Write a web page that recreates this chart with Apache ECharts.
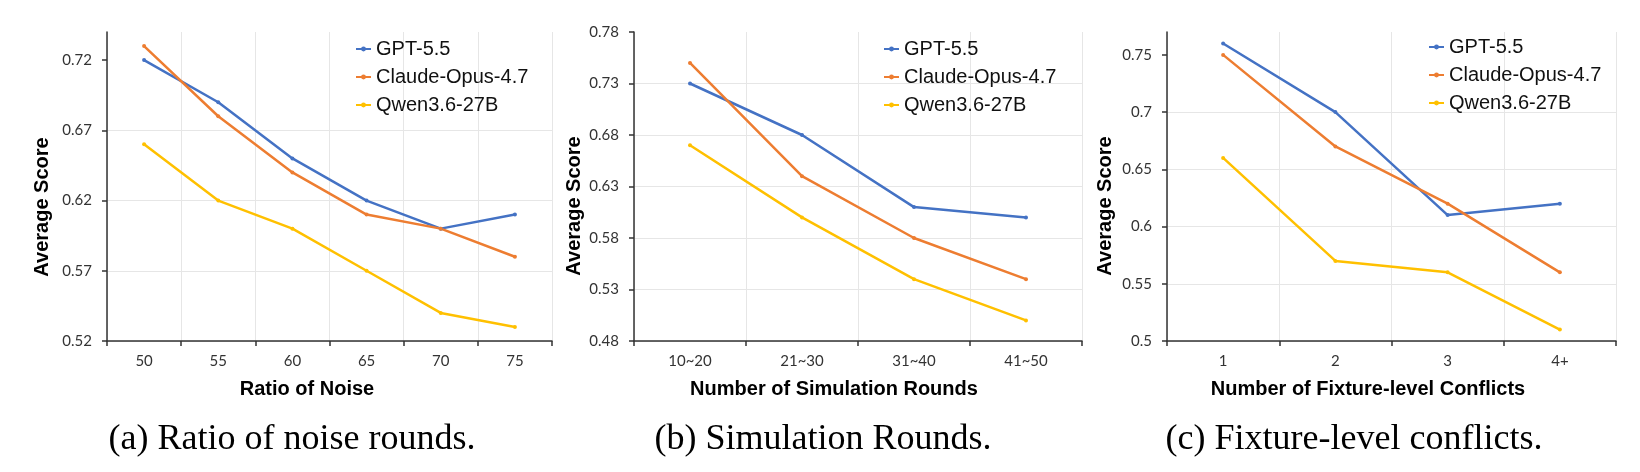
<!DOCTYPE html>
<html>
<head>
<meta charset="utf-8">
<title>Average Score</title>
<script src="https://cdn.jsdelivr.net/npm/echarts@6/dist/echarts.min.js"></script>
<style>
  html, body { margin: 0; padding: 0; background: #fff; }
  #main { width: 1640px; height: 472px; }
</style>
</head>
<body>
<div id="main"></div>
<script type="text/javascript">
// data
var modelNames = ['GPT-5.5', 'Claude-Opus-4.7', 'Qwen3.6-27B'];
var modelColors = ['#4472C4', '#ED7D31', '#FFC000'];

// (a) ratio of noise
var noiseCats = ['50', '55', '60', '65', '70', '75'];
var noiseGpt = [0.72, 0.69, 0.65, 0.62, 0.60, 0.61];
var noiseClaude = [0.73, 0.68, 0.64, 0.61, 0.60, 0.58];
var noiseQwen = [0.66, 0.62, 0.60, 0.57, 0.54, 0.53];
var noiseTicks = [0.52, 0.57, 0.62, 0.67, 0.72];

// (b) simulation rounds
var roundCats = ['10~20', '21~30', '31~40', '41~50'];
var roundGpt = [0.73, 0.68, 0.61, 0.60];
var roundClaude = [0.75, 0.64, 0.58, 0.54];
var roundQwen = [0.67, 0.60, 0.54, 0.50];
var roundTicks = [0.48, 0.53, 0.58, 0.63, 0.68, 0.73, 0.78];

// (c) fixture-level conflicts
var conflictCats = ['1', '2', '3', '4+'];
var conflictGpt = [0.76, 0.70, 0.61, 0.62];
var conflictClaude = [0.75, 0.67, 0.62, 0.56];
var conflictQwen = [0.66, 0.57, 0.56, 0.51];
var conflictTicks = [0.5, 0.55, 0.6, 0.65, 0.7, 0.75];

var axisColor = '#333';
var gridColor = '#e6e6e6';
var labelFont = 'Lato, "Open Sans", sans-serif';
var sansFont = '"Liberation Sans", Arial, sans-serif';
var serifFont = '36px "Liberation Serif", "Times New Roman", serif';

function makeX(idx, cats) {
    return {
        type: 'category',
        gridIndex: idx,
        data: cats,
        boundaryGap: true,
        axisLine: { lineStyle: { color: axisColor, width: 1.5 } },
        axisTick: { show: true, length: 5, lineStyle: { color: axisColor, width: 1.5 } },
        axisLabel: { color: '#333', fontFamily: labelFont, fontSize: 15, margin: 13 },
        splitLine: { show: true, lineStyle: { color: gridColor, width: 1 } }
    };
}

function makeY(idx, ticks, top) {
    return {
        type: 'value',
        gridIndex: idx,
        min: ticks[0],
        max: top,
        interval: 0.05,
        axisLine: { show: true, lineStyle: { color: axisColor, width: 1.5 } },
        axisTick: { show: true, length: 5, customValues: ticks, lineStyle: { color: axisColor, width: 1.5 } },
        axisLabel: {
            color: '#333', fontFamily: labelFont, fontSize: 15, margin: 15,
            customValues: ticks,
            formatter: function (v) { return String(+v.toFixed(2)); }
        },
        splitLine: { show: true, showMaxLine: false, lineStyle: { color: gridColor, width: 1 } }
    };
}

function makeSeries(idx, lists) {
    return lists.map(function (vals, i) {
        return {
            name: modelNames[i],
            type: 'line',
            xAxisIndex: idx,
            yAxisIndex: idx,
            data: vals,
            symbol: 'circle',
            symbolSize: 4,
            lineStyle: { width: 2.5, color: modelColors[i] },
            itemStyle: { color: modelColors[i] },
            emphasis: { disabled: true }
        };
    });
}

function makeLegend(left, top) {
    return {
        orient: 'vertical',
        left: left,
        top: top,
        data: modelNames,
        itemWidth: 15,
        itemHeight: 6,
        itemGap: 8,
        padding: 0,
        textStyle: { fontFamily: sansFont, fontSize: 20, color: '#111', lineHeight: 20 }
    };
}

function txt(x, y, s, font, rot) {
    return {
        type: 'text', x: x, y: y, rotation: rot || 0,
        style: { text: s, font: font, fill: '#000', textAlign: 'center', textVerticalAlign: 'middle' }
    };
}

var myChart = echarts.init(document.getElementById('main'), null, { renderer: 'canvas' });

var option = {
    backgroundColor: '#fff',
    animation: false,
    color: modelColors,
    grid: [
        { left: 107, top: 32, width: 445, height: 309 },
        { left: 634, top: 32, width: 448, height: 309 },
        { left: 1167, top: 32, width: 449, height: 309 }
    ],
    xAxis: [makeX(0, noiseCats), makeX(1, roundCats), makeX(2, conflictCats)],
    yAxis: [makeY(0, noiseTicks, 0.74), makeY(1, roundTicks, 0.78), makeY(2, conflictTicks, 0.77)],
    legend: [makeLegend(355, 39), makeLegend(883, 39), makeLegend(1428, 37)],
    series: [].concat(
        makeSeries(0, [noiseGpt, noiseClaude, noiseQwen]),
        makeSeries(1, [roundGpt, roundClaude, roundQwen]),
        makeSeries(2, [conflictGpt, conflictClaude, conflictQwen])
    ),
    graphic: [
        txt(307, 389, 'Ratio of Noise', 'bold 20px ' + sansFont),
        txt(834, 389, 'Number of Simulation Rounds', 'bold 20px ' + sansFont),
        txt(1368, 389, 'Number of Fixture-level Conflicts', 'bold 20px ' + sansFont),
        txt(42, 207, 'Average Score', 'bold 20px ' + sansFont, Math.PI / 2),
        txt(574, 206, 'Average Score', 'bold 20px ' + sansFont, Math.PI / 2),
        txt(1105, 206, 'Average Score', 'bold 20px ' + sansFont, Math.PI / 2),
        txt(292, 440, '(a) Ratio of noise rounds.', serifFont),
        txt(823, 440, '(b) Simulation Rounds.', serifFont),
        txt(1354, 440, '(c) Fixture-level conflicts.', serifFont)
    ]
};

myChart.setOption(option);
</script>
</body>
</html>
